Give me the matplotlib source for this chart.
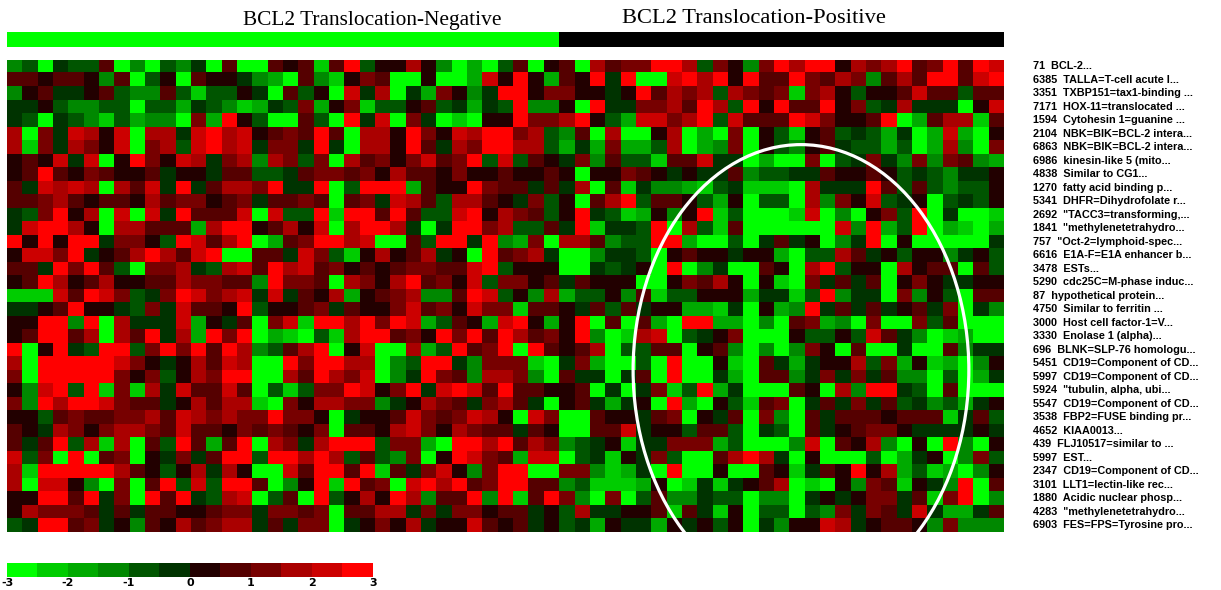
import numpy as np
import matplotlib
matplotlib.use('Agg')
import matplotlib.pyplot as plt
from matplotlib.colors import ListedColormap, BoundaryNorm
from matplotlib.patches import Ellipse
from matplotlib.cm import ScalarMappable

plt.rcParams['axes.unicode_minus'] = False

# colour code per cell: 'a' = -3 (bright green) ... 'l' = +3 (bright red), 0.5 steps
LEVELS = 'abcdefghijkl'
level_values = -2.75 + 0.5 * np.arange(len(LEVELS))

group_names = ['BCL2 Translocation-Negative', 'BCL2 Translocation-Positive']
group_sizes = [36, 29]
group_colors = ['#00ff00', '#000000']

genes = [
    '71  BCL-2...',
    '6385  TALLA=T-cell acute l...',
    '3351  TXBP151=tax1-binding ...',
    '7171  HOX-11=translocated ...',
    '1594  Cytohesin 1=guanine ...',
    '2104  NBK=BIK=BCL-2 intera...',
    '6863  NBK=BIK=BCL-2 intera...',
    '6986  kinesin-like 5 (mito...',
    '4838  Similar to CG1...',
    '1270  fatty acid binding p...',
    '5341  DHFR=Dihydrofolate r...',
    '2692  "TACC3=transforming,...',
    '1841  "methylenetetrahydro...',
    '757  "Oct-2=lymphoid-spec...',
    '6616  E1A-F=E1A enhancer b...',
    '3478  ESTs...',
    '5290  cdc25C=M-phase induc...',
    '87  hypothetical protein...',
    '4750  Similar to ferritin ...',
    '3000  Host cell factor-1=V...',
    '3330  Enolase 1 (alpha)...',
    '696  BLNK=SLP-76 homologu...',
    '5451  CD19=Component of CD...',
    '5997  CD19=Component of CD...',
    '5924  "tubulin, alpha, ubi...',
    '5547  CD19=Component of CD...',
    '3538  FBP2=FUSE binding pr...',
    '4652  KIAA0013...',
    '439  FLJ10517=similar to ...',
    '5997  EST...',
    '2347  CD19=Component of CD...',
    '3101  LLT1=lectin-like rec...',
    '1880  Acidic nuclear phosp...',
    '4283  "methylenetetrahydro...',
    '6903  FES=FPS=Tyrosine pro...',
]

expr_rows = [
    "deafeehadaedfaha" "ahghbhleggjgdacae" "haghajhiilljeigd" "iljllgjijlhilhlk",
    "hhghhgdhaegahggf" "dcahdbgihaagaackg" "lgchglflaakljlgl" "hhlihjidhjhllhkl",
    "dghffgheddhebeeg" "fahegakfjafcigdfl" "lgiiggfglhjijeji" "hibijgegghkhhehh",
    "ffgeddeeaeecfedb" "cfeicgibeeghefcfe" "lddgalffiijhljel" "glhhlgiefjfffagk",
    "feafedbecddaiclg" "eaahealfkaifabagg" "liijlgeckkijlekh" "hhlkigghlachjjbh",
    "jaifkjgkajjfkljk" "ghihlhajjgligkjll" "ijedhajaagjacaia" "gebghefecfackcag",
    "jbifjigkaijekljk" "fiiflfajjglhfjill" "jjecfciccejacdia" "gedghfeeceacjdai",
    "ghgkfkagligkjfij" "djieiajhigikhilek" "ehgfidheebhhkffa" "caaiaefifdidihdc",
    "ghlhgihgghfggfhh" "eefhiihigjhhgiggh" "gghgaggihgfgffhd" "eeffhgghgefedffg",
    "hfkjkjajhkflfhjj" "ilfflaelllchgglih" "hfhfjahbfddcbefb" "bbajffflhehedeeg",
    "hhijhghhgjhiighi" "fhhihahifkjhejjhg" "fiegahjlehhgecga" "eeajdigkefgaefeg",
    "feilgjakakflhhhk" "akeelbllhlheeklgj" "iheglfebcgdglbea" "aabkadagielafaab",
    "fklljgajjhhhcjll" "ghjgkajlljfafllij" "eehflbffelajebha" "aaaaakdlcelacbac",
    "lglgllfiigelkhjl" "achilljkaahellfld" "ciajjhdeellcaaea" "fhfgadflagaaaaaf",
    "gkkilfghjljhklaa" "hhfkiebgjghjfgalh" "ijfaadffeaghggfg" "gcaeejhfgeggdfge",
    "hhflilheaiijfejk" "hljkhighghiihhkle" "gggaafefgaladfaa" "hgajleggajghhahe",
    "ghljghjgghhjiihh" "dliihajigjlhigkei" "ighfhgggaagihjga" "gbaifhfhagigffgg",
    "bbbkhlkiefilkijk" "fkfhgjcghijddhlke" "gdjceegdhbeegggc" "ffbeldffaidgeahh",
    "ffghlggfeifkhhgl" "egghifhggikhigkii" "bhhgfhehfggccbfa" "gcdlfhfhfghfiafd",
    "gglldlajfffkcgfh" "aikblljlilkcehgck" "lgcglahahcallcca" "dahicdaiaaiehaaa",
    "ghllhjajhlfjclil" "acbaebjllhiglilhl" "jhigldabjkaefgia" "aageegekhfdabcaa",
    "laglfelleililhlj" "dehjlagkaajcelhil" "alhghjaeehhaghda" "dadigahaafaahdff",
    "jalllllkigfgjhkj" "aalilljjadellfdii" "ibaficaaealaagba" "hfcfggjeicgbcadg",
    "iallllligiegjill" "aajhljikadflihdjj" "idahffafhalaafca" "hhdfififhddaeacf",
    "gdklelbibjfkhhkh" "aebeiilkgilfklkhl" "hhgghafafibelcfa" "aahgajdllfeahaaa",
    "idljllkihhfgjhjj" "baigjjiidfgjihfij" "hfaghfcfgalcageb" "hiafhfifhefdecfg",
    "ggehihhiijhkjiji" "iliigafgghkihikjg" "akiaahggfhiagfha" "idahfhhhghhhbfhe",
    "hgfjigijjihkhhgi" "hihgiahhgjkigjihh" "fhgaahhkfggehhea" "feahfghiigffffgf",
    "hfhlejbjahelhchl" "ajifjllleiicalljl" "hjidefgbffiiicea" "aadkahgjdagaldag",
    "keialahiagfifhll" "elljljehediaglkih" "ckkaefbgfieaahjl" "jfagaaaeacfgadie",
    "jbllllljhgegjfjg" "aakhllhlbhfikgdil" "laaiidbcfalaagaa" "hgbfhglgjcebcadg",
    "jakkgdaiahlekell" "hadglblhiakljlhil" "lhhdebbbcgabfbfg" "hjabagdihbgfdlah",
    "ggllhlfialhlfejk" "aehalegjgljdhhldl" "bhlidaiaehddfeea" "ddafgfgiifhbilad",
    "gjiiihfhfhhgghii" "fiihiahhjjfifiigh" "hfgejffgghbhfbga" "eeaedifihfkfccfh",
    "efllhifgdhgjhijj" "fhfiiafgigjfggkhg" "hfgefcgffcgfgega" "fdggkjfghhgdiddd",
]

cbar_ticks = [-3, -2, -1, 0, 1, 2, 3]

palette = ['#00ff00', '#00cc00', '#00aa00', '#008800', '#005500', '#003300',
           '#220000', '#550000', '#770000', '#aa0000', '#cc0000', '#ff0000']


def main():
    for row in expr_rows:
        assert len(row) == sum(group_sizes), len(row)
    data = np.array([[level_values[LEVELS.index(ch)] for ch in row] for row in expr_rows])
    n_rows, n_cols = data.shape

    cmap = ListedColormap(palette)
    norm = BoundaryNorm(np.linspace(-3, 3, 13), cmap.N)

    fig = plt.figure(figsize=(12.21, 5.90), dpi=100)
    W, H = 1221.0, 590.0
    left, right = 7.3 / W, 1003.8 / W
    top, bottom = 1 - 59.7 / H, 1 - 532.2 / H

    ax = fig.add_axes([left, bottom, right - left, top - bottom])
    ax.imshow(data, cmap=cmap, norm=norm, aspect='auto', interpolation='nearest')
    ax.set_xticks([])
    ax.set_yticks([])
    for s in ax.spines.values():
        s.set_visible(False)

    # white circle round the positive-group cluster
    ell = Ellipse((51.27, 22.49), 21.9, 33.4, fill=False, edgecolor='white', lw=2.3)
    ax.add_patch(ell)

    # gene labels to the right of the map
    for i, g in enumerate(genes):
        ax.text(n_cols - 0.5 + 29.2 / 15.33, i, g, va='center', ha='left',
                fontsize=7.8, fontweight='bold', family='Liberation Sans',
                clip_on=False)

    # group header bar
    axh = fig.add_axes([left, 1 - 47 / H, right - left, 15 / H])
    start = -0.5
    for size, col in zip(group_sizes, group_colors):
        axh.bar(start, 1, width=size, align='edge', color=col, edgecolor='none')
        start += size
    axh.set_xlim(-0.5, n_cols - 0.5)
    axh.set_ylim(0, 1)
    axh.axis('off')
    axh.text(23.3, 1.8, group_names[0], transform=axh.get_xaxis_transform(),
             ha='center', va='center', fontsize=15.4, family='Liberation Serif')
    axh.text(48.2, 1.92, group_names[1], transform=axh.get_xaxis_transform(),
             ha='center', va='center', fontsize=16.2, family='Liberation Serif')

    # colour scale
    axc = fig.add_axes([7 / W, 1 - 577 / H, 366 / W, 14 / H])
    cb = fig.colorbar(ScalarMappable(norm=norm, cmap=cmap), cax=axc,
                      orientation='horizontal', ticks=cbar_ticks)
    cb.outline.set_visible(False)
    cb.minorticks_off()
    axc.tick_params(length=0, pad=1)
    for lab in axc.get_xticklabels():
        lab.set_fontsize(8)
        lab.set_fontweight('bold')

    fig.savefig('out.png', dpi=100)


if __name__ == '__main__':
    main()
